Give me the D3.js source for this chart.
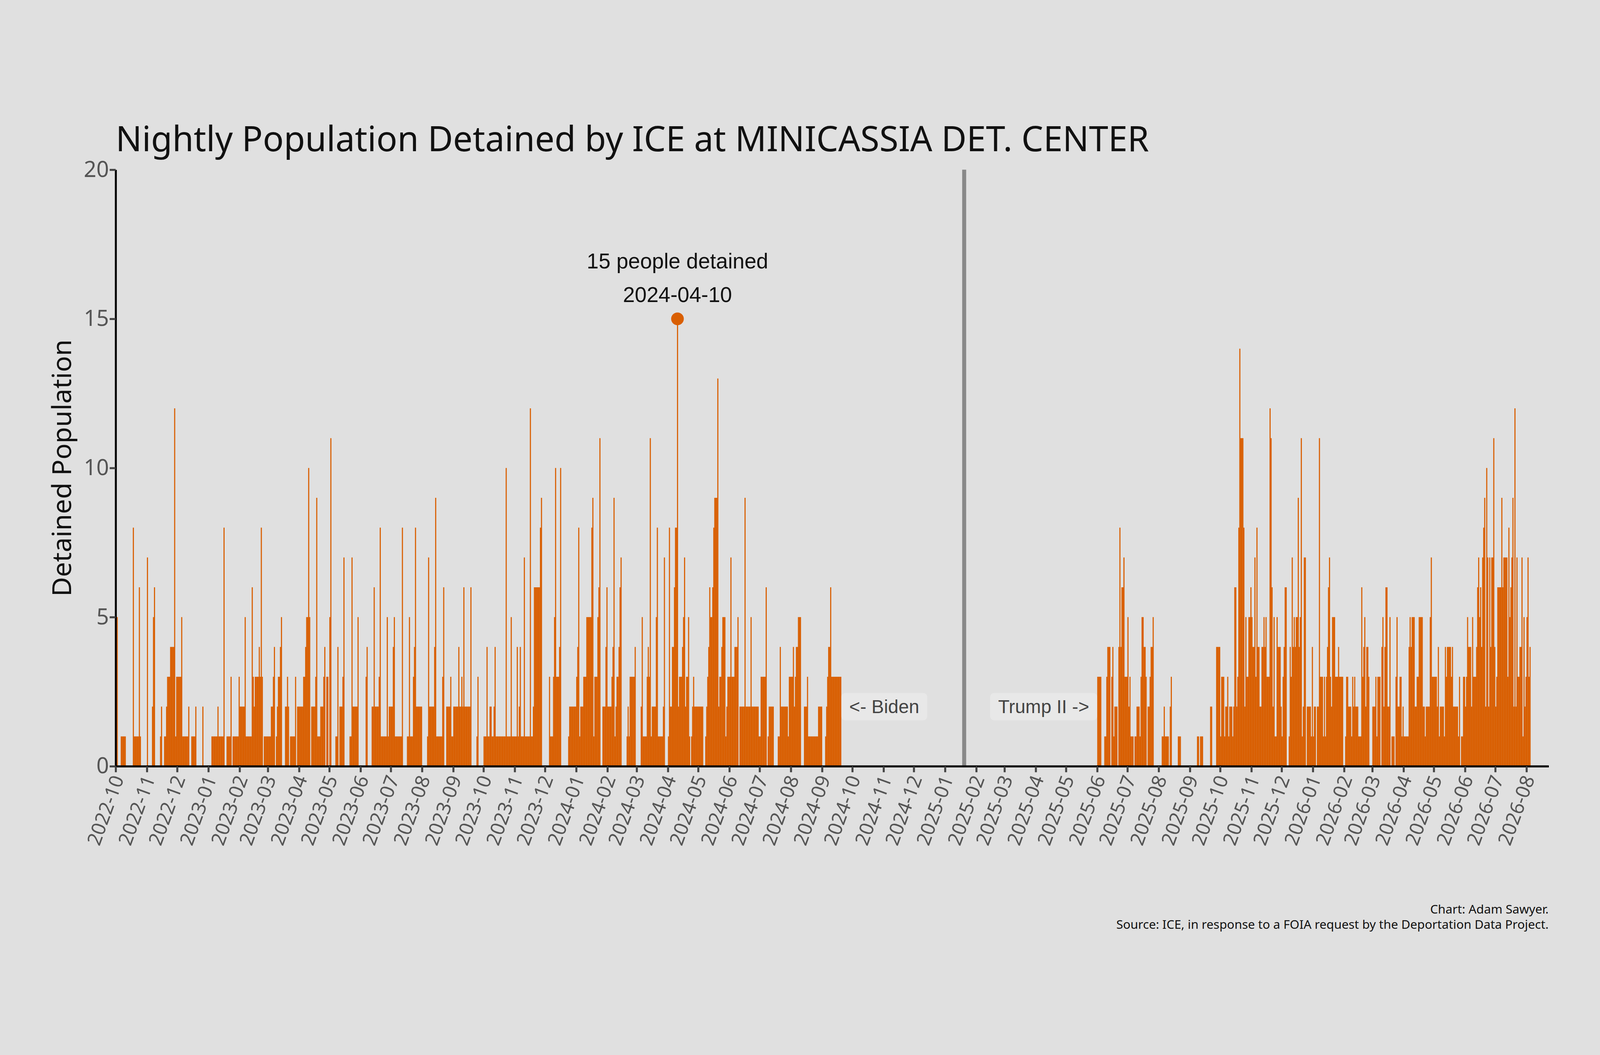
<!DOCTYPE html>
<html>
<head>
<meta charset="utf-8">
<script src="https://cdn.jsdelivr.net/npm/d3@7"></script>
<style>
  html, body { margin: 0; padding: 0; background: #e0e0e0; overflow: hidden; }
  svg { display: block; width: 100vw; height: 100vh; }
</style>
</head>
<body>
<svg id="chart" viewBox="0 0 4800 2700" preserveAspectRatio="xMidYMid meet"></svg>
<script>
// months that have data, and nightly counts for each day (base-36 digit per day)
const months = [
  "2022-10", "2022-11", "2022-12", "2023-01", "2023-02", "2023-03", "2023-04",
  "2023-05", "2023-06", "2023-07", "2023-08", "2023-09", "2023-10", "2023-11",
  "2023-12", "2024-01", "2024-02", "2024-03", "2024-04", "2024-05", "2024-06",
  "2024-07", "2024-08", "2024-09",
  "2025-06", "2025-07", "2025-08", "2025-09", "2025-10", "2025-11", "2025-12",
  "2026-01", "2026-02", "2026-03", "2026-04", "2026-05", "2026-06", "2026-07",
  "2026-08"
];
const dailyCounts = [
  "2500011111000000081111161000000",
  "700002560000012001123334444c13",
  "3333511111120011112000000200000",
  "0001111112111118001111301111113",
  "2222251111116323333438301111",
  "1112234012334500022320111113022",
  "222233455a5022223911122234033",
  "5b000011402223700000117222225000",
  "000003400002262222381111115122",
  "2245111111180000115111348222222",
  "0000017222224911111136002222311",
  "222224223262222226000001300000",
  "1114112211241111111111a11115111",
  "114124111711111c11266666689000",
  "0000311135a3334a000000012222222",
  "34812223335555589133356b0022246",
  "22223491233467000001213333340",
  "0000251111343b12222581111127000",
  "182244688f233345723351012322222",
  "2222200123465568999d23345551233",
  "373334445022222922222522222221",
  "1333336012222200001142222222133",
  "3342344555000222311111111112222",
  "0001234463333333333"
];
const dailyCounts2 = [
  "333300011344403412220484667333",
  "5231110112221355443022344500000",
  "0001121111023000000111000000000",
  "000000011011100000002200004444",
  "1333122312221266238ebbb82533556",
  "544738442244545333cb6251154442",
  "1346600143745455945b12770222214",
  "122022b33313134673255533343333",
  "0133222132322211163452443000",
  "2223133304524662250111035223312",
  "111114545552233555522122225733",
  "3332412222143444434222221301133",
  "235444253334675647892a727477b4",
  "2366669677773856792c27334471523",
  "5734"
];
const allCounts = dailyCounts.concat(dailyCounts2);

const peakDate = "2024-04-10";
const peakValue = 15;
const inaugurationDate = "2025-01-20";
const yTicks = [0, 5, 10, 15, 20];
const titleText = "Nightly Population Detained by ICE at MINICASSIA DET. CENTER";
const captionLines = [
  "Chart: Adam Sawyer.",
  "Source: ICE, in response to a FOIA request by the Deportation Data Project."
];

const parse = d3.utcParse("%Y-%m-%d");
const data = [];
months.forEach((m, i) => {
  const start = d3.utcParse("%Y-%m")(m);
  const nDays = d3.utcDay.count(start, d3.utcMonth.offset(start, 1));
  const s = allCounts[i];
  for (let k = 0; k < nDays && k < s.length; k++) {
    const v = parseInt(s[k], 36);
    if (v > 0) data.push({ date: d3.utcDay.offset(start, k), value: v });
  }
});

const svg = d3.select("#chart");
const margin = { top: 277, right: 154, bottom: 634, left: 347 };
const width = 4800 - margin.left - margin.right;
const height = 2700 - margin.top - margin.bottom;
const orange = "#d95f02";

const x = d3.scaleUtc()
  .domain([parse("2022-10-01"), parse("2026-08-23")])
  .range([0, width]);
const y = d3.scaleLinear().domain([0, 20]).range([height, 0]);

const g = svg.append("g").attr("transform", `translate(${margin.left},${margin.top})`);

// bars
g.selectAll("rect.bar")
  .data(data)
  .enter()
  .append("rect")
  .attr("class", "bar")
  .attr("x", d => x(d.date))
  .attr("width", d => x(d3.utcDay.offset(d.date, 1)) - x(d.date) + 0.3)
  .attr("y", d => y(d.value))
  .attr("height", d => height - y(d.value))
  .attr("fill", orange);

// inauguration line
g.append("line")
  .attr("x1", x(parse(inaugurationDate))).attr("x2", x(parse(inaugurationDate)))
  .attr("y1", y(20)).attr("y2", y(0))
  .attr("stroke", "#888").attr("stroke-width", 12);

// peak annotation
const px = x(parse(peakDate)) + 1.5;
g.append("circle").attr("cx", px).attr("cy", y(peakValue)).attr("r", 19).attr("fill", orange);
g.append("text").attr("x", px).attr("y", 296)
  .attr("text-anchor", "middle").attr("font-family", "Liberation Sans, Arial, sans-serif")
  .attr("font-size", 64).attr("fill", "#111").text("15 people detained");
g.append("text").attr("x", px).attr("y", 397)
  .attr("text-anchor", "middle").attr("font-family", "Liberation Sans, Arial, sans-serif")
  .attr("font-size", 64).attr("fill", "#111").text(peakDate);

// era labels
function eraLabel(tx, anchor, label) {
  const t = g.append("text").attr("x", tx).attr("y", y(2))
    .attr("dy", "0.35em").attr("text-anchor", anchor)
    .attr("font-family", "Liberation Sans, Arial, sans-serif")
    .attr("font-size", 56).attr("fill", "#444").text(label);
  const b = t.node().getBBox();
  g.insert("rect", () => t.node())
    .attr("x", b.x - 24).attr("y", b.y - 10)
    .attr("width", b.width + 48).attr("height", b.height + 20)
    .attr("rx", 12).attr("fill", "#ffffff").attr("fill-opacity", 0.25);
}
eraLabel(x(parse("2024-09-20")) + 24, "start", "<- Biden");
eraLabel(x(parse("2025-06-01")) - 24, "end", "Trump II ->");

// axes
const xAxis = g.append("g")
  .attr("transform", `translate(0,${height})`)
  .call(d3.axisBottom(x)
    .ticks(d3.utcMonth.every(1))
    .tickFormat(d3.utcFormat("%Y-%m"))
    .tickSize(18)
    .tickSizeOuter(0));
xAxis.select(".domain").attr("stroke", "#000").attr("stroke-width", 6);
xAxis.selectAll(".tick line").attr("stroke", "#444").attr("stroke-width", 6);
xAxis.selectAll(".tick text")
  .attr("font-family", "Noto Sans, Open Sans, sans-serif")
  .attr("font-size", 58).attr("fill", "#555")
  .attr("text-anchor", "end")
  .attr("transform", "translate(6,30) rotate(-70)")
  .attr("dy", "0.35em").attr("y", 0).attr("x", 0);

const yAxis = g.append("g")
  .call(d3.axisLeft(y).tickValues(yTicks).tickSize(18).tickSizeOuter(0));
yAxis.select(".domain").attr("stroke", "#000").attr("stroke-width", 6);
yAxis.selectAll(".tick line").attr("stroke", "#444").attr("stroke-width", 6);
yAxis.selectAll(".tick text")
  .attr("font-family", "Noto Sans, Open Sans, sans-serif")
  .attr("font-size", 66).attr("fill", "#555").attr("x", -20);

// y label
svg.append("text")
  .attr("transform", `translate(185,${margin.top + height / 2}) rotate(-90)`)
  .attr("text-anchor", "middle").attr("dy", "0.35em")
  .attr("font-family", "Noto Sans, Open Sans, sans-serif")
  .attr("font-size", 80).attr("fill", "#111").text("Detained Population");

// title
svg.append("text").attr("x", 347).attr("y", 222)
  .attr("font-family", "Noto Sans, Open Sans, sans-serif")
  .attr("font-size", 104).attr("fill", "#111").text(titleText);

// caption
captionLines.forEach((line, i) => {
  svg.append("text").attr("x", 4646).attr("y", 2508 + i * 46)
    .attr("text-anchor", "end")
    .attr("font-family", "Noto Sans, Open Sans, sans-serif")
    .attr("font-size", 37).attr("fill", "#111").text(line);
});
</script>
</body>
</html>
